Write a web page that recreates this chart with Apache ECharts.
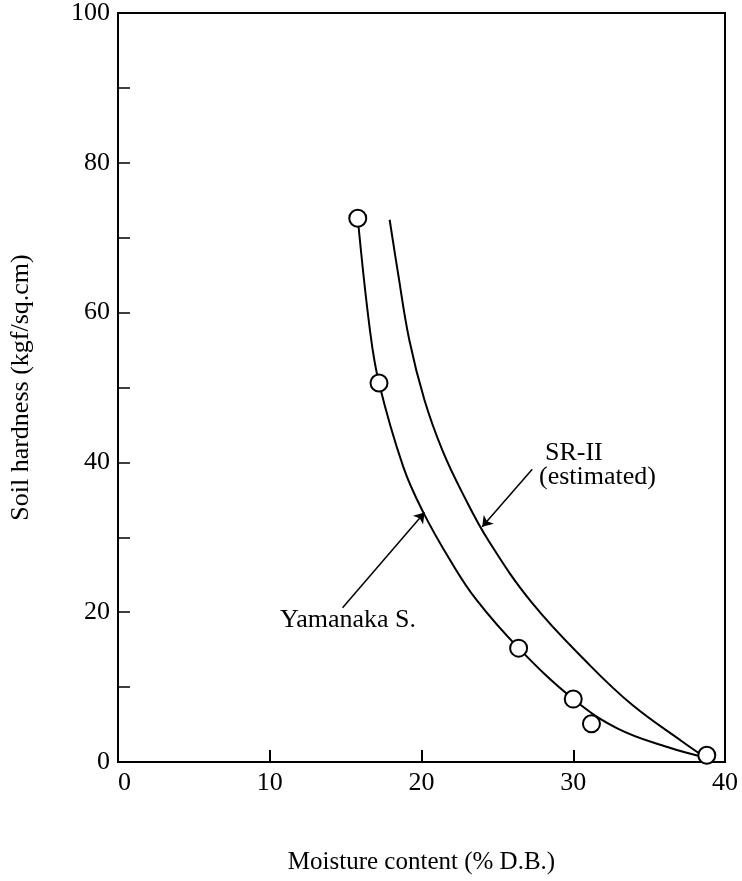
<!DOCTYPE html>
<html>
<head>
<meta charset="utf-8">
<script src="https://cdn.jsdelivr.net/npm/echarts@6/dist/echarts.min.js"></script>
<style>
  html, body { margin: 0; padding: 0; background: #fff; }
  #chart { width: 742px; height: 881px; }
</style>
</head>
<body>
<div id="chart"></div>
<script>
// measured points (moisture %, hardness)
var yamanakaPoints = [[15.8, 72.6], [17.2, 50.6], [26.4, 15.2], [30.0, 8.4], [31.2, 5.1], [38.8, 0.9]];
// fitted curve, Yamanaka S.
var yamanakaCurve = [[15.8, 72.6], [16.6, 57.7], [17.2, 50.6], [18.8, 39.4], [20.1, 33.4],
  [21.9, 26.9], [23.6, 21.7], [26.4, 15.2], [30.0, 8.4], [32.9, 4.5], [36.2, 2.0], [38.7, 0.6]];
// SR-II (estimated)
var srCurve = [[17.9, 72.4], [18.45, 65.3], [19.2, 56.3], [20.2, 48.3], [21.4, 41.5], [22.7, 35.9],
  [24.4, 29.6], [27.3, 21.2], [31.1, 12.9], [33.9, 7.6], [37.2, 2.7], [38.7, 0.6]];
var xTicks = [0, 10, 20, 30, 40];
var yTicks = [0, 20, 40, 60, 80, 100];

var font = '"Liberation Serif", "DejaVu Serif", serif';
var chart = echarts.init(document.getElementById('chart'));

chart.setOption({
  backgroundColor: '#fff',
  animation: false,
  grid: {
    left: 118, right: 17, top: 13, bottom: 119,
    show: true, borderColor: '#000', borderWidth: 2
  },
  xAxis: {
    type: 'value', min: 0, max: 40, interval: 10,
    name: 'Moisture content (% D.B.)',
    nameLocation: 'middle', nameGap: 88,
    nameTextStyle: { fontFamily: font, fontSize: 25, color: '#000' },
    axisLine: { show: true, lineStyle: { color: '#000', width: 2 } },
    axisTick: { show: true, inside: true, length: 12, lineStyle: { color: '#000', width: 2 } },
    axisLabel: {
      fontFamily: font, fontSize: 26, color: '#000', margin: 8,
      alignMinLabel: 'left',
      formatter: function (v) { return xTicks.indexOf(v) >= 0 ? String(v) : ''; }
    },
    splitLine: { show: false }
  },
  yAxis: {
    type: 'value', min: 0, max: 100, interval: 20,
    name: 'Soil hardness (kgf/sq.cm)',
    nameLocation: 'middle', nameGap: 84, nameRotate: 90,
    nameTextStyle: { fontFamily: font, fontSize: 26, color: '#000' },
    axisLine: { show: true, lineStyle: { color: '#000', width: 2 } },
    axisTick: { show: true, inside: true, length: 12, lineStyle: { color: '#000', width: 1.5 } },
    minorTick: { show: true, splitNumber: 2, length: 12, lineStyle: { color: '#000', width: 1.5 } },
    axisLabel: {
      fontFamily: font, fontSize: 26, color: '#000', margin: 8,
      formatter: function (v) { return yTicks.indexOf(v) >= 0 ? String(v) : ''; }
    },
    splitLine: { show: false }
  },
  series: [
    {
      name: 'SR-II', type: 'line', data: srCurve, smooth: 0.4,
      showSymbol: false, symbol: 'none',
      lineStyle: { color: '#000', width: 2 },
      markLine: {
        silent: true, symbol: ['none', 'arrow'], symbolSize: 10,
        lineStyle: { color: '#000', width: 1.5, type: 'solid' },
        label: { show: false },
        data: [[{ coord: [27.3, 39.1] }, { coord: [24.0, 31.4] }]]
      }
    },
    {
      name: 'Yamanaka S.', type: 'line', data: yamanakaCurve, smooth: 0.4,
      showSymbol: false, symbol: 'none',
      lineStyle: { color: '#000', width: 2 },
      markLine: {
        silent: true, symbol: ['none', 'arrow'], symbolSize: 10,
        lineStyle: { color: '#000', width: 1.5, type: 'solid' },
        label: { show: false },
        data: [[{ coord: [14.8, 20.6] }, { coord: [20.2, 33.3] }]]
      }
    },
    {
      name: 'measured', type: 'scatter', data: yamanakaPoints,
      symbol: 'circle', symbolSize: 17, z: 5,
      itemStyle: { color: '#fff', opacity: 1, borderColor: '#000', borderWidth: 2 }
    }
  ],
  graphic: [
    { type: 'text', left: 545, top: 440,
      style: { text: 'SR-II', font: '26px ' + font, fill: '#000' } },
    { type: 'text', left: 539, top: 464,
      style: { text: '(estimated)', font: '26px ' + font, fill: '#000' } },
    { type: 'text', left: 280, top: 607,
      style: { text: 'Yamanaka S.', font: '26px ' + font, fill: '#000' } }
  ]
});
</script>
</body>
</html>
